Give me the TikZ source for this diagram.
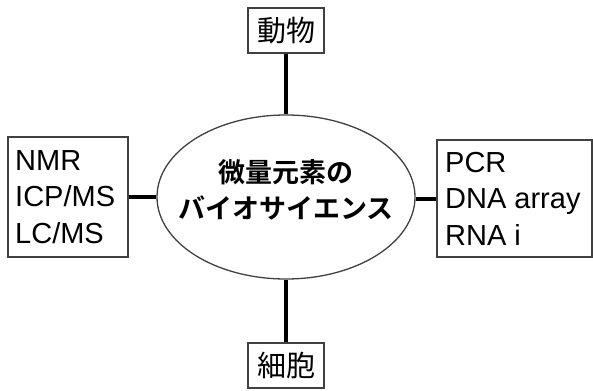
\documentclass[tikz,border=0pt]{standalone}
\usetikzlibrary{shapes.geometric}
\usepackage{fontspec}
\setmainfont{Liberation Sans}
\newfontfamily\jp{Noto Sans CJK JP}
\newfontfamily\jpb{Noto Sans CJK JP Bold}
\begin{document}
\begin{tikzpicture}[x=1pt,y=-1pt,
  box/.style={draw=black!75, line width=1.3pt, rectangle, inner sep=0pt},
  conn/.style={line width=4pt, black},
  lat/.style={font=\fontsize{29}{36.5}\selectfont, align=left, inner sep=0pt},
  jpn/.style={font=\jp\fontsize{29}{30}\selectfont}]
\useasboundingbox (0,0) rectangle (593,390);
\node[draw=black!75, line width=1.3pt, ellipse, minimum width=258pt, minimum height=164pt, inner sep=0pt] (c) at (286,197) {};
\node[font=\jpb\fontsize{27}{36}\selectfont, align=center] (ct) at (286,190) {微量元素の\\バイオサイエンス};
\node[box, minimum width=76pt, minimum height=45pt, jpn] (top) at (286,30.5) {動物};
\node[box, minimum width=76pt, minimum height=45pt, jpn] (bot) at (286,365.5) {細胞};
\node[box, minimum width=120pt, minimum height=120pt] (l) at (68,197) {};
\node[lat, anchor=base west] (lt) at (15,243) {NMR\\ICP/MS\\LC/MS};
\node[box, minimum width=155pt, minimum height=117pt] (r) at (514.5,198.5) {};
\node[lat, anchor=base west] (rt) at (445,245) {PCR\\DNA array\\RNA i};
\draw[conn] (top.south) -- (c.north);
\draw[conn] (c.south) -- (bot.north);
\draw[conn] (l.east) -- (l.east -| c.west);
\draw[conn] (r.west) -- (r.west -| c.east);
\end{tikzpicture}
\end{document}
